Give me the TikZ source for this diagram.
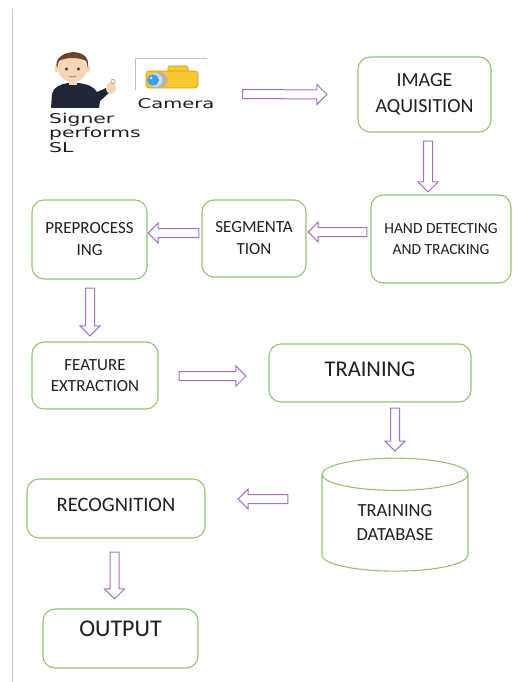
\documentclass[tikz,border=0pt]{standalone}
\usepackage{fontspec}
\setmainfont{Carlito}
\newfontfamily\capfont{DejaVu Sans}
\usetikzlibrary{shapes.arrows, shapes.geometric, calc}

\definecolor{boxgreen}{RGB}{146,196,112}
\definecolor{arrowpurple}{RGB}{165,112,205}
\definecolor{ink}{RGB}{30,30,30}
\definecolor{skin}{RGB}{246,214,184}
\definecolor{hair}{RGB}{112,68,36}
\definecolor{shirt}{RGB}{30,38,56}
\definecolor{camyellow}{RGB}{247,200,48}
\definecolor{camorange}{RGB}{214,150,20}
\definecolor{lensblue}{RGB}{60,160,235}

\begin{document}
\begin{tikzpicture}[x=1pt, y=-1pt,
    box/.style={draw=boxgreen, line width=1.1pt, rounded corners=12pt,
                align=center, text=ink, inner sep=0pt},
    arrowbody/.style={single arrow, draw=arrowpurple, line width=1pt,
                inner xsep=0pt, inner ysep=4pt, minimum width=0pt,
                single arrow head extend=5.5pt, single arrow tip angle=90, anchor=tail},
    flow/.style={to path={let \p1=(\tikztostart), \p2=(\tikztotarget),
                \n1={atan2(\y2-\y1,\x2-\x1)}, \n2={veclen(\x2-\x1,\y2-\y1)} in
                node[arrowbody, minimum height=\n2, rotate=\n1] at (\p1) {} (\tikztotarget)}}]
    \useasboundingbox (0,0) rectangle (515,682);

    % page margin line
    \draw[gray!45, line width=1pt] (12.5,9) -- (12.5,682);

    % signer
    \fill[shirt] (51,108) -- (52,94) .. controls (53,87) and (61,84) .. (68,83)
        -- (78,83) .. controls (88,84) and (94,87) .. (97,92) -- (106,88)
        -- (110,92) -- (100,101) -- (99,108) -- cycle;
    \fill[skin] (69,78) rectangle (77,85);
    \fill[skin] (57,69) ellipse (2.5 and 3.5);
    \fill[skin] (88,69) ellipse (2.5 and 3.5);
    \fill[skin] (72.5,69) ellipse (14.5 and 13);
    \fill[hair] (57,68) .. controls (51,50) and (92,44) .. (88,68)
        -- (86,61) .. controls (79,57) and (66,57) .. (59,61) -- cycle;
    \fill[black!80] (66.5,69) circle (1.6);
    \fill[black!80] (78.5,69) circle (1.6);
    \draw[black!60, line width=0.6pt] (69,76) .. controls (71,77.5) and (74,77.5) .. (76,76);
    \fill[skin] (111,88) ellipse (5 and 6);
    \draw[skin!70!black, line width=0.6pt] (113,81.5) circle (2.2);

    % camera
    \draw[gray!50, line width=0.8pt] (135,90) -- (135,58) -- (207,58);
    \filldraw[fill=camyellow, draw=camorange, line width=0.6pt, rounded corners=2pt]
        (168,66) rectangle (188,73);
    \filldraw[fill=camyellow, draw=camorange, line width=0.6pt, rounded corners=3pt]
        (146,71) rectangle (198,88);
    \fill[gray!60] (158,80) ellipse (9.5 and 8);
    \fill[gray!30] (155,80) ellipse (7.5 and 7);
    \fill[lensblue] (153,80) ellipse (6 and 5.5);
    \fill[white!80!lensblue] (151,78) circle (1.5);

    \node[font=\capfont\fontsize{13.5}{14.5}\selectfont, text=ink] (cam) at (176,104)
        {\scalebox{1.45}[1]{Camera}};
    \node[font=\capfont\fontsize{13.5}{14.5}\selectfont, text=ink, align=left,
          anchor=north west, inner sep=0pt] (signer) at (49,113)
        {\scalebox{1.5}[1]{Signer}\\\scalebox{1.5}[1]{performs}\\\scalebox{1.5}[1]{SL}};
    \coordinate (shot) at (242,94);

    % processing stages
    \node[box, minimum width=133pt, minimum height=75pt, font=\fontsize{20}{26}\selectfont]
        (img) at (424.5,94.5) {IMAGE\\AQUISITION};
    \node[box, minimum width=140pt, minimum height=88pt, font=\fontsize{15.5}{20.5}\selectfont]
        (hand) at (441,239) {HAND DETECTING\\AND TRACKING};
    \node[box, minimum width=104pt, minimum height=77pt, font=\fontsize{17}{22}\selectfont]
        (seg) at (254,238.5) {SEGMENTA\\TION};
    \node[box, minimum width=115pt, minimum height=79pt, font=\fontsize{17}{22}\selectfont]
        (pre) at (89.5,239.5) {PREPROCESS\\ING};
    \node[box, minimum width=126pt, minimum height=67pt, font=\fontsize{17}{21.5}\selectfont]
        (feat) at (95,375.5) {FEATURE\\EXTRACTION};
    \node[box, minimum width=202pt, minimum height=58pt, text depth=8pt,
          font=\fontsize{22.5}{26}\selectfont] (train) at (370,373) {TRAINING};
    \node[cylinder, shape border rotate=90, draw=boxgreen, line width=1.1pt, aspect=0.42,
          minimum width=146pt, minimum height=113pt, inner sep=0pt, align=center, text=ink,
          font=\fontsize{18.5}{24}\selectfont] (db) at (395,523) {TRAINING\\DATABASE};
    \node[box, minimum width=178pt, minimum height=59pt, text depth=7pt,
          font=\fontsize{20.5}{24}\selectfont] (rec) at (116,508.5) {RECOGNITION};
    \node[box, minimum width=155pt, minimum height=59pt, text depth=19pt,
          font=\fontsize{24}{28}\selectfont] (out) at (120.5,638.5) {OUTPUT};

    % flow between stages
    \path (shot) to[flow] ([xshift=-31pt]img.west);
    \path ([xshift=3.5pt,yshift=-8pt]img.south) to[flow] ([xshift=-13pt,yshift=3pt]hand.north);
    \path ([xshift=-3pt,yshift=7pt]hand.west) to[flow] ([xshift=2pt,yshift=6.5pt]seg.east);
    \path ([xshift=-2pt,yshift=5.5pt]seg.west) to[flow] ([xshift=1pt,yshift=6.5pt]pre.east);
    \path ([xshift=0.5pt,yshift=-8pt]pre.south) to[flow] ([xshift=-5pt,yshift=6pt]feat.north);
    \path ([xshift=20pt,yshift=-0.5pt]feat.east) to[flow] ([xshift=-23pt,yshift=-3pt]train.west);
    \path ([xshift=25pt,yshift=-5pt]train.south) to[flow] ([yshift=7pt]db.north);
    \path ([xshift=-33pt,yshift=24pt]db.west) to[flow] ([xshift=33pt,yshift=9.5pt]rec.east);
    \path ([xshift=-1.5pt,yshift=-13pt]rec.south) to[flow] ([xshift=-6pt,yshift=10pt]out.north);
\end{tikzpicture}
\end{document}
